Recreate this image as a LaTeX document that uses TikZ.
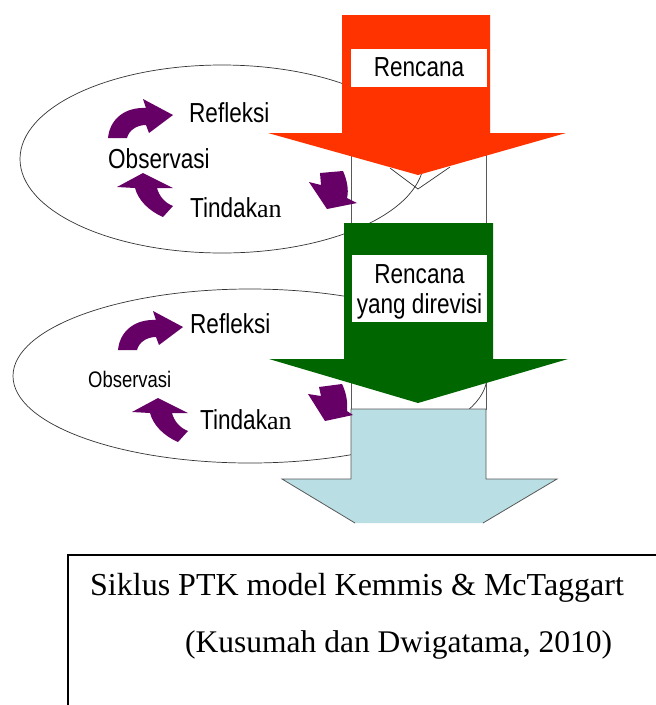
\documentclass[tikz,border=0pt]{standalone}
\usepackage{fontspec}
\setmainfont{Liberation Serif}
\newfontfamily\arialn[FakeStretch=0.82]{Liberation Sans}
\definecolor{planred}{RGB}{255,51,0}
\definecolor{plangreen}{RGB}{0,102,0}
\definecolor{planblue}{RGB}{185,223,228}
\definecolor{cyclepurple}{RGB}{102,0,102}
\begin{document}
\begin{tikzpicture}[x=1pt,y=-1pt]
\useasboundingbox[fill=white] (0,0) rectangle (656,705);
\tikzset{
  ell/.style={draw=black!80, line width=0.7pt},
  outl/.style={draw=black!65, line width=0.8pt},
  purp/.style={fill=cyclepurple},
  lbl/.style={font=\arialn\fontsize{27.5}{32}\selectfont, inner sep=0pt, anchor=base west},
  boxlbl/.style={font=\arialn\fontsize{27.5}{32}\selectfont, inner sep=0pt, anchor=base},
  serifpart/.style={},
  caption/.style={font=\fontsize{32}{38}\selectfont, inner sep=0pt, anchor=base west}
}
% gap column between the arrows
\draw[outl, fill=white] (351,133) rectangle (486,409);
% ellipses
\draw[ell] (222,159) ellipse [x radius=202, y radius=94];
\draw[ell] (250,376) ellipse [x radius=237, y radius=87];
\draw[ell] (390,168) -- (418,189) -- (450,167);
% red arrow
\fill[planred] (342,15) -- (490,15) -- (490,133) -- (566,133) -- (418,175) -- (268,133) -- (342,133) -- cycle;
\fill[white] (351,49) rectangle (487,87);
\node[boxlbl] (rencana1) at (419,76) {Rencana};
% green arrow
\fill[plangreen] (344,223) -- (493,223) -- (493,359) -- (568,359) -- (418,403) -- (269,359) -- (344,359) -- cycle;
\fill[white] (352,255) rectangle (487,322);
\node[boxlbl] (rencana2) at (419.5,283) {Rencana};
\node[boxlbl] (revisi) at (419.5,313) {yang direvisi};
% light blue arrow
\fill[planblue] (351,409) -- (486,409) -- (486,479) -- (557,479) -- (483,523) -- (355,523) -- (282,479) -- (351,479) -- cycle;
\draw[outl] (483,523) -- (557,479) -- (486,479) -- (486,409) -- (351,409) -- (351,479) -- (282,479) -- (355,523);
% purple cycle arrows, first cycle
\fill[purp] (108,138) .. controls (110,118) and (126,107) .. (146,108) -- (143,99) -- (173,115) -- (149,133) -- (146,125) .. controls (137,125) and (129,130) .. (127,138) -- cycle;
\fill[purp] (117,187) -- (143,173) -- (173,188) -- (157,188) .. controls (159,196) and (165,203) .. (173,206) -- (163,217) .. controls (149,211) and (138,200) .. (135,188) -- cycle;
\fill[purp] (320,173) -- (343,171) .. controls (347,180) and (349,190) .. (347,198) -- (357,203) -- (327,209) -- (309,182) -- (321,185) -- cycle;
% second cycle
\fill[purp] (118,350) .. controls (120,330) and (136,319) .. (156,320) -- (153,311) -- (183,327) -- (159,345) -- (156,337) .. controls (147,337) and (139,342) .. (137,350) -- cycle;
\fill[purp] (132,412) -- (158,398) -- (188,413) -- (172,413) .. controls (174,421) and (180,428) .. (188,431) -- (178,442) .. controls (164,436) and (153,425) .. (150,413) -- cycle;
\fill[purp] (319,387) -- (342,384) .. controls (346,392) and (348,402) .. (347,411) -- (353,415) -- (325,421) -- (308,394) -- (321,396) -- cycle;
% labels
\node[lbl] (refleksi1) at (189,122) {Refleksi};
\node[lbl] (observasi1) at (108,168) {Observasi};
\node[lbl] (tindakan1) at (190,217) {Tindak{\rmfamily\fontsize{26}{30}\selectfont an}};
\node[lbl] (refleksi2) at (190,333) {Refleksi};
\node[lbl, font=\arialn\fontsize{22.5}{27}\selectfont] (observasi2) at (88,387) {Observasi};
\node[lbl] (tindakan2) at (200,429) {Tindak{\rmfamily\fontsize{26}{30}\selectfont an}};
% caption box
\draw[line width=1.2pt] (656,555) -- (68,555) -- (68,705);
\node[caption] (cap1) at (90,595) {Siklus PTK model Kemmis \& McTaggart};
\node[caption, font=\fontsize{31.5}{38}\selectfont] (cap2) at (185,652) {(Kusumah dan Dwigatama, 2010)};
\end{tikzpicture}
\end{document}
